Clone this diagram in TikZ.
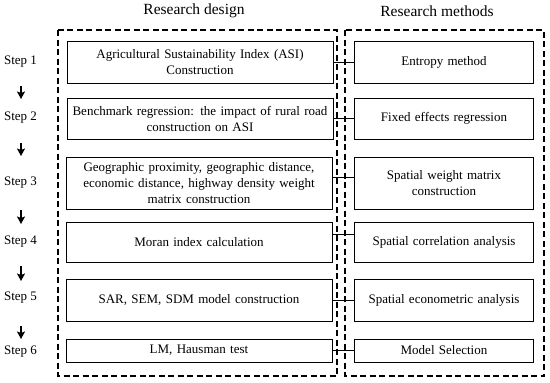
\documentclass[tikz,border=0pt]{standalone}
\usepackage{fontspec}
\setmainfont{Liberation Serif}
\usetikzlibrary{arrows.meta}
\begin{document}
\begin{tikzpicture}[x=1pt,y=-1pt,
  txt/.style={font=\fontsize{13}{16}\selectfont},
  title/.style={font=\fontsize{15.5}{18}\selectfont, inner sep=0pt},
  steplabel/.style={txt, inner sep=0pt},
  lbox/.style={draw, line width=1pt, txt, align=center, inner sep=0pt, minimum width=266pt, text width=262pt},
  rbox/.style={draw, line width=1pt, txt, align=center, inner sep=0pt, minimum width=179pt, text width=175pt},
  frame/.style={draw, line width=1.2pt, dash pattern=on 6pt off 3.5pt},
  link/.style={line width=1pt},
  steparrow/.style={line width=1.4pt, -{Stealth[length=7.5pt,width=8pt,inset=1.5pt]}}
]
\useasboundingbox (0,0) rectangle (550,383);
% dashed frames
\draw[frame] (58,30) rectangle (337,376);
\draw[frame] (345,30) rectangle (544,376);
% titles
\node[title] (t1) at (194,11) {Research design};
\node[title] (t2) at (437,11) {Research methods};
% left boxes
\node[lbox, minimum height=42pt] (l1) at (200,62) {Agricultural Sustainability Index (ASI)\\Construction};
\node[lbox, minimum height=41pt] (l2) at (200,118.5) {Benchmark regression: the impact of rural road\\construction on ASI};
\node[lbox, minimum height=52pt] (l3) at (199,183) {Geographic proximity, geographic distance,\\economic distance, highway density weight\\matrix construction};
\node[lbox, minimum height=40pt] (l4) at (199,242) {Moran index calculation};
\node[lbox, minimum height=42pt] (l5) at (199,300) {SAR, SEM, SDM model construction};
\node[lbox, minimum height=23pt] (l6) at (199,350.5) {LM, Hausman test};
% right boxes
\node[rbox, minimum height=42pt] (r1) at (444,62) {Entropy method};
\node[rbox, minimum height=41pt] (r2) at (444,118.5) {Fixed effects regression};
\node[rbox, minimum height=52pt] (r3) at (444,183) {Spatial weight matrix\\construction};
\node[rbox, minimum height=40pt] (r4) at (444,242) {Spatial correlation analysis};
\node[rbox, minimum height=42pt] (r5) at (444,300) {Spatial econometric analysis};
\node[rbox, minimum height=23pt] (r6) at (444,350.5) {Model Selection};
% connectors
\draw[link] (l1.east) -- (r1.west);
\draw[link] (l2.east) -- (r2.west);
\draw[link] ([yshift=6pt]l3.east) -- ([yshift=6pt]r3.west);
\draw[link] ([yshift=8pt]l4.east) -- ([yshift=8pt]r4.west);
\draw[link] (l5.east) -- (r5.west);
\draw[link] (l6.east) -- (r6.west);
% step labels
\node[steplabel] (s1) at (20.5,62) {Step 1};
\node[steplabel] (s2) at (20.5,118) {Step 2};
\node[steplabel] (s3) at (20.5,183) {Step 3};
\node[steplabel] (s4) at (20.5,242) {Step 4};
\node[steplabel] (s5) at (20.5,298) {Step 5};
\node[steplabel] (s6) at (20.5,352) {Step 6};
% step arrows
\coordinate (a1s) at (21,86);  \coordinate (a1e) at (21,99);
\coordinate (a2s) at (21,143); \coordinate (a2e) at (21,156);
\coordinate (a3s) at (21,210); \coordinate (a3e) at (21,224);
\coordinate (a4s) at (21,266); \coordinate (a4e) at (21,281);
\coordinate (a5s) at (21,326); \coordinate (a5e) at (21,339);
\draw[steparrow] (a1s) -- (a1e);
\draw[steparrow] (a2s) -- (a2e);
\draw[steparrow] (a3s) -- (a3e);
\draw[steparrow] (a4s) -- (a4e);
\draw[steparrow] (a5s) -- (a5e);
\end{tikzpicture}
\end{document}
